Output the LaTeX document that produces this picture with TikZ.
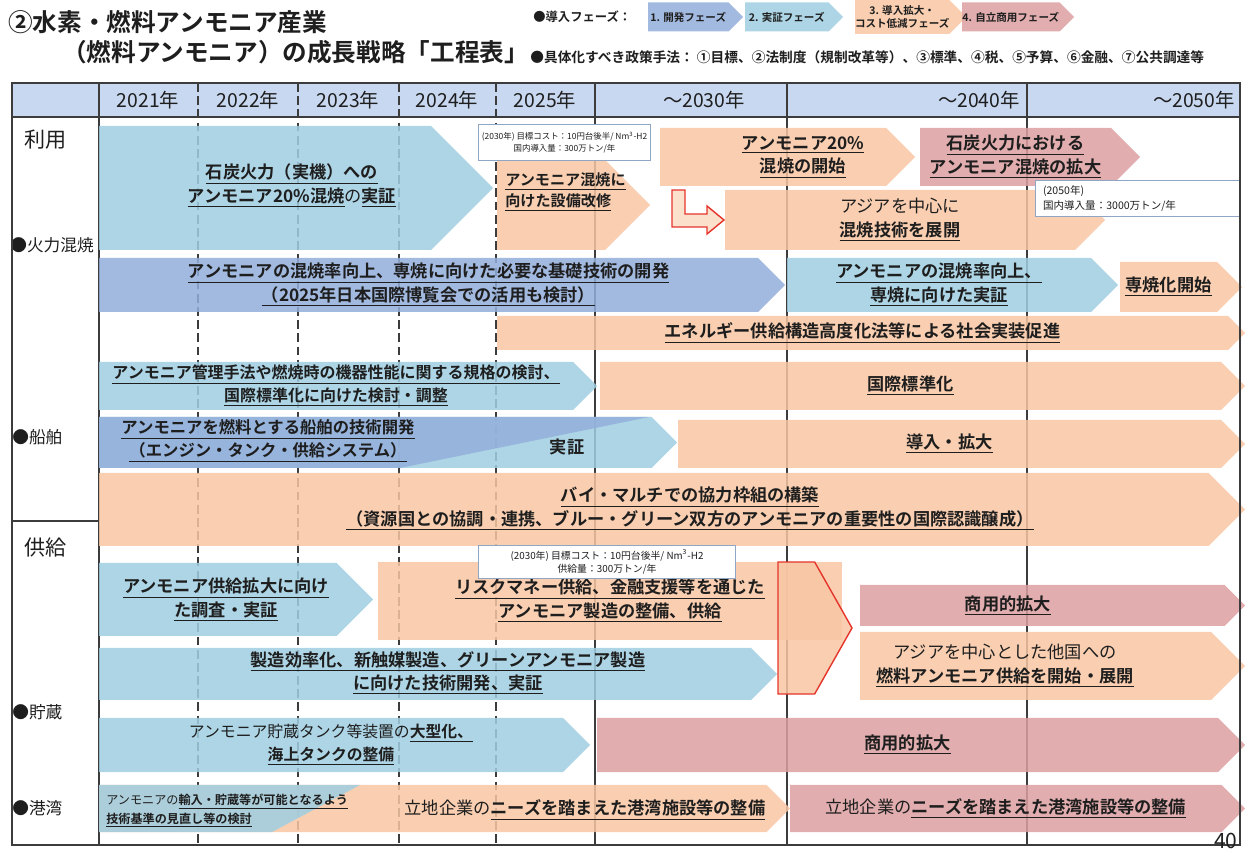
\documentclass[tikz,border=0pt]{standalone}
\usepackage{fontspec}
\setmainfont{Noto Sans CJK JP}[BoldFont={Noto Sans CJK JP Bold}]
\usepackage{tikz}
\usetikzlibrary{shapes.symbols, positioning}
\definecolor{devblue}{HTML}{93AEDB}
\definecolor{demoblue}{HTML}{9FCEE1}
\definecolor{rollout}{HTML}{F8C6A3}
\definecolor{commpink}{HTML}{DC9FA0}
\definecolor{headfill}{HTML}{C8D8F0}
\definecolor{notegray}{HTML}{8FA6C4}
\definecolor{gridline}{HTML}{3C3C3C}
\definecolor{ink}{HTML}{1E1E1E}
\definecolor{alertred}{HTML}{E5352B}
\definecolor{alertfill}{HTML}{FBE0CC}
\newcommand\ulx[1]{\underline{#1}}
\tikzset{
  wh/.style 2 args={minimum width=#1cm, minimum height=#2cm},
  bar/.style={signal, signal to=east, signal pointer angle=90, anchor=west,
              inner sep=0pt, outer sep=0pt, align=center, text=ink,
              fill opacity=0.85, text opacity=1,
              font=\fontsize{9.8}{13.5}\selectfont\bfseries},
  devbar/.style ={bar, fill=devblue},
  demobar/.style={bar, fill=demoblue},
  rollbar/.style={bar, fill=rollout},
  commbar/.style={bar, fill=commpink},
  legbar/.style={bar, font=\fontsize{6}{7.2}\selectfont\bfseries},
  note/.style={rectangle, draw=notegray, fill=white, line width=0.6pt,
               anchor=north west, inner sep=0pt, align=center, text=ink,
               font=\fontsize{4.8}{6.5}\selectfont},
  txt/.style={inner sep=0pt, align=center, text=ink,
              font=\fontsize{9.8}{13.5}\selectfont\bfseries},
  titletxt/.style={anchor=west, inner sep=0pt, text=ink,
                   font=\fontsize{14}{16}\selectfont\bfseries},
  legtxt/.style={anchor=west, inner sep=0pt, text=ink,
                 font=\fontsize{7}{8}\selectfont\bfseries},
  yearlbl/.style={inner sep=0pt, text=ink, font=\fontsize{11}{13}\selectfont},
  seclbl/.style={anchor=west, inner sep=0pt, text=ink, font=\fontsize{12}{14}\selectfont},
  rowlbl/.style={anchor=west, inner sep=0pt, text=ink, font=\fontsize{9.5}{11}\selectfont},
  griddash/.style={gridline, line width=0.7pt, dash pattern=on 5pt off 2.5pt},
  gridsolid/.style={gridline, line width=0.6pt},
}
\begin{document}
\begin{tikzpicture}[x=0.2mm, y=-0.2mm]
  \useasboundingbox (0,0) rectangle (1245,853);

  % -- title and legend --
  \node[titletxt] (titleA) at (8,22) {②水素・燃料アンモニア産業};
  \node[titletxt] (titleB) at (62,52) {（燃料アンモニア）の成長戦略「工程表」};
  \node[legtxt] (phaselbl) at (533,17) {●導入フェーズ：};
  \node[legbar, fill=devblue,  wh={1.90}{0.58}] (phasedev)  at (648,17) {1. 開発フェーズ};
  \node[legbar, fill=demoblue, wh={1.96}{0.58}] (phasedemo) at (745,17) {2. 実証フェーズ};
  \node[legbar, fill=rollout,  wh={2.04}{0.68}] (phaseroll) at (855,17) {3. 導入拡大・\\コスト低減フェーズ};
  \node[legbar, fill=commpink, wh={2.24}{0.58}] (phasecomm) at (962,17) {4. 自立商用フェーズ};
  \node[legtxt, font=\fontsize{7.8}{9}\selectfont\bfseries] (policy) at (530,57)
    {●具体化すべき政策手法：\ ①目標、②法制度（規制改革等）、③標準、④税、⑤予算、⑥金融、⑦公共調達等};

  % -- table frame --
  \fill[headfill] (12,83) rectangle (1240,117);
  \foreach \gx in {198,298,399,496} \draw[griddash] (\gx,83) -- (\gx,845);
  \foreach \gx in {99,595,787,1027} \draw[gridsolid] (\gx,83) -- (\gx,845);
  \draw[gridsolid] (12,117) -- (1240,117);
  \draw[gridsolid] (12,521) -- (99,521);

  \node[yearlbl] (y2021) at (148,100) {2021年};
  \node[yearlbl] (y2022) at (248,100) {2022年};
  \node[yearlbl] (y2023) at (348,100) {2023年};
  \node[yearlbl] (y2024) at (447,100) {2024年};
  \node[yearlbl] (y2025) at (545,100) {2025年};
  \node[yearlbl, anchor=east] (y2030) at (745,100) {～2030年};
  \node[yearlbl, anchor=east] (y2040) at (1020,100) {～2040年};
  \node[yearlbl, anchor=east] (y2050) at (1235,100) {～2050年};

  \node[seclbl] (use)    at (24,140) {利用};
  \node[rowlbl] (firing) at (10,245) {●火力混焼};
  \node[rowlbl] (ships)  at (12,437) {●船舶};
  \node[seclbl] (supply) at (24,548) {供給};
  \node[rowlbl] (store)  at (12,712) {●貯蔵};
  \node[rowlbl] (ports)  at (12,808) {●港湾};

  % -- use: co-firing --
  \node[demobar, wh={7.88}{2.48}] (coaldemo) at (99,188) {};
  \node[txt] (coaldemotxt) at (292,186)
    {\ulx{石炭火力（実機）への}\\\ulx{アンモニア20\%混焼}{\mdseries の}\ulx{実証}};
  \node[rollbar, wh={3.06}{1.80}] (retrofit) at (497,205) {};
  \node[txt, anchor=west, align=left, font=\fontsize{8.6}{12}\selectfont\bfseries] (retrofittxt) at (505,192)
    {\ulx{アンモニア混焼に}\\\ulx{向けた設備改修}};
  \node[rollbar, wh={5.10}{1.16}] (cofire) at (660,157) {};
  \node[txt] (cofiretxt) at (803,157) {\ulx{アンモニア20\%}\\\ulx{混焼の開始}};
  \node[commbar, wh={4.40}{1.16}] (cofirewide) at (920,157) {\ulx{石炭火力における}\\\ulx{アンモニア混焼の拡大}};
  \node[rollbar, wh={7.60}{1.20}] (asiatech) at (725,220) {{\mdseries アジアを中心に}\\\ulx{混焼技術を展開}};
  \node[note, wh={3.44}{0.72}] (target30) at (478,124)
    {(2030年)\ 目標コスト：10円台後半/ Nm\textsuperscript{3}-H2\\国内導入量：300万トン/年};
  \node[note, wh={4.10}{0.72}, align=left, text width=3.8cm, inner xsep=0.15cm,
        font=\fontsize{6}{8}\selectfont] (target50) at (1035,180)
    {(2050年)\\国内導入量：3000万トン/年};
  \draw[alertred, fill=alertfill, line width=0.8pt]
    (672,190) -- (685,190) -- (685,214) -- (707,214) -- (707,206) -- (724,220)
    -- (707,234) -- (707,227) -- (672,227) -- cycle;

  \node[devbar, wh={13.72}{1.08}] (basetech) at (99,285)
    {\ulx{アンモニアの混焼率向上、専焼に向けた必要な基礎技術の開発}\\\ulx{（2025年日本国際博覧会での活用も検討）}};
  \node[demobar, wh={6.62}{1.08}] (monodemo) at (787,285) {\ulx{アンモニアの混焼率向上、}\\\ulx{専焼に向けた実証}};
  \node[rollbar, wh={2.44}{1.00}] (monostart) at (1120,287) {\ulx{専焼化開始}};
  \node[rollbar, wh={14.96}{0.68}] (lawpush) at (497,333) {\ulx{エネルギー供給構造高度化法等による社会実装促進}};

  % -- use: ships --
  \node[demobar, wh={9.96}{0.96}, font=\fontsize{9.1}{13}\selectfont\bfseries] (stdstudy) at (99,386)
    {\ulx{アンモニア管理手法や燃焼時の機器性能に関する規格の検討、}\\\ulx{国際標準化に向けた検討・調整}};
  \node[rollbar, wh={12.90}{0.96}] (stdintl) at (600,386) {\ulx{国際標準化}};
  \node[demobar, wh={11.56}{1.02}] (shipdev) at (99,442.5) {};
  \fill[devblue, fill opacity=0.85] (99,417) -- (649,417) -- (400,468) -- (99,468) -- cycle;
  \node[txt, font=\fontsize{9.3}{13}\selectfont\bfseries] (shipdevtxt) at (268,441)
    {\ulx{アンモニアを燃料とする船舶の技術開発}\\\ulx{（エンジン・タンク・供給システム）}};
  \node[txt] (shipdemotxt) at (567,447) {実証};
  \node[rollbar, wh={11.34}{0.96}] (shipuse) at (678,444) {\ulx{導入・拡大}};
  \node[rollbar, wh={22.92}{1.46}] (bilat) at (99,509.5) {};
  \node[txt] (bilattxt) at (690,509)
    {\ulx{バイ・マルチでの協力枠組の構築}\\\ulx{（資源国との協調・連携、ブルー・グリーン双方のアンモニアの重要性の国際認識醸成）}};

  % -- supply --
  \node[demobar, wh={5.48}{1.46}] (supstudy) at (99,599.5) {};
  \node[txt] (supstudytxt) at (226,600) {\ulx{アンモニア供給拡大に向け}\\\ulx{た調査・実証}};
  \node[rectangle, fill=rollout, fill opacity=0.85, text opacity=1, txt, wh={9.28}{1.56}] (riskmoney) at (610,601)
    {\ulx{リスクマネー供給、金融支援等を通じた}\\\ulx{アンモニア製造の整備、供給}};
  \node[note, wh={5.14}{0.66}, font=\fontsize{5.6}{7.5}\selectfont] (target30s) at (478,545)
    {(2030年)\ 目標コスト：10円台後半/ Nm\textsuperscript{3}-H2\\供給量：300万トン/年};
  \node[demobar, wh={13.56}{1.04}] (prodtech) at (99,674) {};
  \node[txt] (prodtechtxt) at (448,673)
    {\ulx{製造効率化、新触媒製造、グリーンアンモニア製造}\\\ulx{に向けた技術開発、実証}};
  \node[rollbar, draw=alertred, line width=0.8pt, signal pointer angle=121, wh={1.48}{2.64}] (supgate) at (778,628) {};
  \node[commbar, wh={7.70}{0.82}] (supcomm) at (860,605.5) {};
  \node[txt] (supcommtxt) at (1008,606) {\ulx{商用的拡大}};
  \node[rollbar, wh={7.70}{1.36}] (supasia) at (860,666) {};
  \node[txt] (supasiatxt) at (1005,666) {{\mdseries アジアを中心とした他国への}\\\ulx{燃料アンモニア供給を開始・展開}};

  \node[demobar, wh={9.82}{1.08}, font=\fontsize{9}{13}\selectfont\bfseries] (tankdev) at (99,745)
    {{\mdseries アンモニア貯蔵タンク等装置の}\ulx{大型化、}\\\ulx{海上タンクの整備}};
  \node[commbar, wh={12.96}{1.08}] (tankcomm) at (597,745) {\ulx{商用的拡大}};

  \node[rollbar, wh={13.82}{0.94}] (portdev) at (99,808.5) {};
  \fill[demoblue, fill opacity=0.85] (99,785) -- (360,785) -- (272,832) -- (99,832) -- cycle;
  \node[txt, anchor=west, align=left, font=\fontsize{6.9}{10.5}\selectfont\bfseries] (portrev) at (106,811)
    {{\mdseries アンモニアの}\ulx{輸入・貯蔵等が可能となるよう}\\\ulx{技術基準の見直し等の検討}};
  \node[txt] (portdevtxt) at (585,810) {{\mdseries 立地企業の}\ulx{ニーズを踏まえた港湾施設等の整備}};
  \node[commbar, wh={9.10}{0.94}] (portcomm) at (790,808.5)
    {{\mdseries 立地企業の}\ulx{ニーズを踏まえた港湾施設等の整備}};

  \draw[gridsolid] (12,83) rectangle (1240,845);
  \node[anchor=south east, inner sep=0pt, text=ink, font=\fontsize{12}{14}\selectfont] (pageno) at (1238,849) {40};
\end{tikzpicture}
\end{document}
